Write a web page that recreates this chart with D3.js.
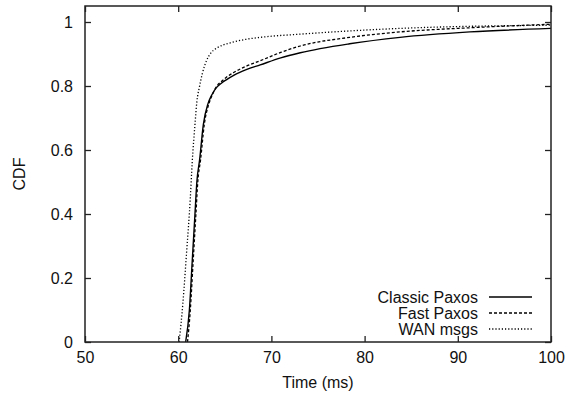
<!DOCTYPE html>
<html>
<head>
<meta charset="utf-8">
<script src="https://cdn.jsdelivr.net/npm/d3@7"></script>
<style>
  body { margin: 0; background: #fff; }
  svg { display: block; font-family: "Liberation Sans", Arial, sans-serif; }
</style>
</head>
<body>
<div id="chart"></div>
<script>
// datos (tiempo en ms, CDF)
const classicT = [60.8, 61.2, 61.5, 61.8, 62.0, 62.3, 62.7, 63.2, 63.6, 64.1, 64.6, 65.2, 66.0, 67.3, 68.8, 71.0, 73.1, 78.4, 83.8, 91.3, 100];
const classicY = [0, 0.10, 0.25, 0.40, 0.50, 0.57, 0.68, 0.745, 0.772, 0.795, 0.808, 0.82, 0.834, 0.851, 0.866, 0.888, 0.904, 0.932, 0.952, 0.969, 0.98];

const fastT = [61.0, 61.3, 61.6, 61.9, 62.1, 62.4, 62.8, 63.3, 63.7, 64.1, 64.6, 65.2, 66.0, 67.3, 68.8, 71.0, 73.1, 78.4, 83.8, 91.3, 100];
const fastY = [0, 0.10, 0.25, 0.40, 0.50, 0.57, 0.68, 0.745, 0.775, 0.798, 0.813, 0.828, 0.843, 0.862, 0.879, 0.905, 0.925, 0.952, 0.969, 0.982, 0.993];

const wanT = [60.1, 60.5, 60.9, 61.3, 61.5, 61.8, 62.0, 62.3, 62.6, 63.05, 63.5, 64.1, 64.8, 65.6, 67.3, 68.8, 73.1, 83.8, 100];
const wanY = [0, 0.12, 0.28, 0.45, 0.56, 0.68, 0.75, 0.80, 0.84, 0.88, 0.903, 0.918, 0.928, 0.935, 0.946, 0.952, 0.962, 0.98, 0.99];

const seriesNames = ["Classic Paxos", "Fast Paxos", "WAN msgs"];
const xTicks = [50, 60, 70, 80, 90, 100];
const yTicks = [0, 0.2, 0.4, 0.6, 0.8, 1];

// ---- configuracion ----
const width = 568, height = 395;
const margin = { left: 85, right: 17, top: 6, bottom: 53 };
const plotW = width - margin.left - margin.right;
const plotH = height - margin.top - margin.bottom;
const fontSize = "16px";

const svg = d3.select("#chart").append("svg")
  .attr("width", width)
  .attr("height", height);

const x = d3.scaleLinear().domain([50, 100]).range([margin.left, margin.left + plotW]);
const y = d3.scaleLinear().domain([0, 1.05]).range([margin.top + plotH, margin.top]);

svg.append("clipPath").attr("id", "clip")
  .append("rect")
  .attr("x", margin.left).attr("y", margin.top)
  .attr("width", plotW).attr("height", plotH);

// ---- series ----
const series = [
  { name: seriesNames[0], t: classicT, v: classicY, dash: null, w: 1.4 },
  { name: seriesNames[1], t: fastT, v: fastY, dash: "3,2", w: 1.3 },
  { name: seriesNames[2], t: wanT, v: wanY, dash: "1.2,2", w: 1.3 }
];

const line = d3.line()
  .x(d => x(d[0]))
  .y(d => y(d[1]))
  .curve(d3.curveMonotoneX);

svg.append("g").attr("clip-path", "url(#clip)")
  .selectAll("path")
  .data(series)
  .join("path")
  .attr("d", s => line(s.t.map((t, i) => [t, s.v[i]])))
  .attr("fill", "none")
  .attr("stroke", "#000")
  .attr("stroke-width", s => s.w)
  .attr("stroke-dasharray", s => s.dash);

// ---- ejes (ticks hacia adentro, espejados) ----
const tickLen = 6;
const axisColor = "#222";

const axBottom = svg.append("g")
  .attr("transform", `translate(0,${margin.top + plotH})`)
  .call(d3.axisBottom(x).tickValues(xTicks).tickSize(-tickLen).tickPadding(10).tickFormat(d3.format("d")));
const axTop = svg.append("g")
  .attr("transform", `translate(0,${margin.top})`)
  .call(d3.axisTop(x).tickValues(xTicks).tickSize(-tickLen).tickFormat(""));
const axLeft = svg.append("g")
  .attr("transform", `translate(${margin.left},0)`)
  .call(d3.axisLeft(y).tickValues(yTicks).tickSize(-tickLen).tickPadding(12).tickFormat(d => d === 0 || d === 1 ? d3.format("d")(d) : d3.format(".1f")(d)));
const axRight = svg.append("g")
  .attr("transform", `translate(${margin.left + plotW},0)`)
  .call(d3.axisRight(y).tickValues(yTicks).tickSize(-tickLen).tickFormat(""));

[axBottom, axTop, axLeft, axRight].forEach(g => {
  g.select(".domain").remove();
  g.selectAll("line").attr("stroke", axisColor).attr("stroke-width", 1.3);
  g.selectAll("text").attr("fill", "#111").style("font-size", fontSize).style("font-family", "Liberation Sans, Arial, sans-serif");
});

svg.append("rect")
  .attr("x", margin.left).attr("y", margin.top)
  .attr("width", plotW).attr("height", plotH)
  .attr("fill", "none")
  .attr("stroke", axisColor)
  .attr("stroke-width", 1.5);

// ---- titulos de ejes ----
svg.append("text")
  .attr("x", margin.left + plotW / 2)
  .attr("y", 388)
  .attr("text-anchor", "middle")
  .style("font-size", fontSize)
  .attr("fill", "#111")
  .text("Time (ms)");

svg.append("text")
  .attr("transform", `translate(25,${margin.top + plotH / 2}) rotate(-90)`)
  .attr("text-anchor", "middle")
  .style("font-size", fontSize)
  .attr("fill", "#111")
  .text("CDF");

// ---- leyenda ----
const legend = svg.append("g");
series.forEach((s, i) => {
  const ly = 297 + i * 16;
  legend.append("text")
    .attr("x", 478).attr("y", ly)
    .attr("dy", "0.35em")
    .attr("text-anchor", "end")
    .style("font-size", fontSize)
    .attr("fill", "#111")
    .text(s.name);
  legend.append("line")
    .attr("x1", 489).attr("x2", 532)
    .attr("y1", ly).attr("y2", ly)
    .attr("stroke", "#000")
    .attr("stroke-width", s.w)
    .attr("stroke-dasharray", s.dash);
});
</script>
</body>
</html>
